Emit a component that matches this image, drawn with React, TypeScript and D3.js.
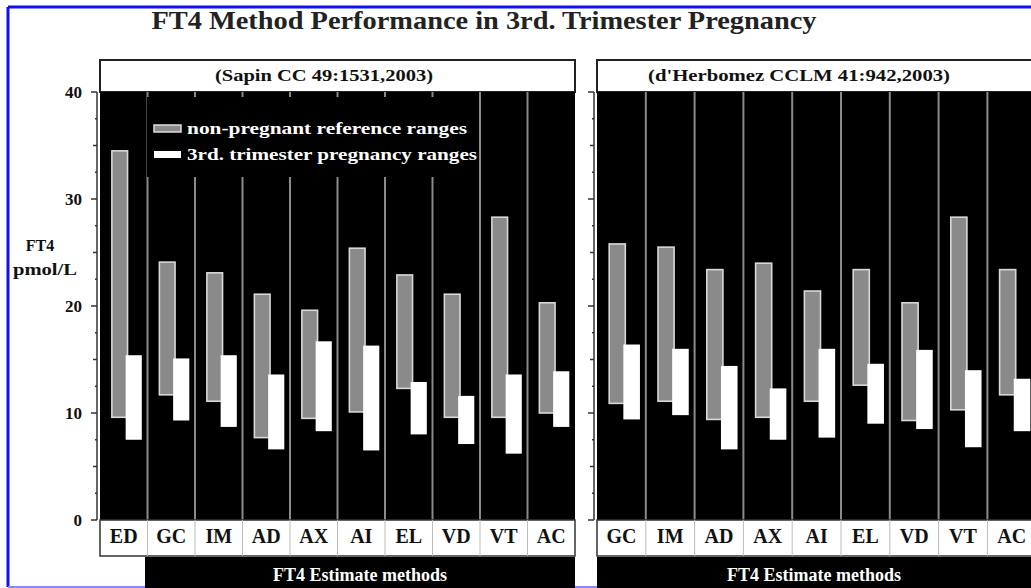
import * as d3 from "d3";
import React from "react";

const title = "FT4 Method Performance in 3rd. Trimester Pregnancy";
const legendLabels = ["non-pregnant reference ranges", "3rd. trimester pregnancy ranges"];
const footLabel = "FT4 Estimate methods";
const yTicks = [0, 10, 20, 30, 40];

// Sapin CC 49:1531,2003
const sapinCats = ["ED", "GC", "IM", "AD", "AX", "AI", "EL", "VD", "VT", "AC"];
const sapinRefLow = [9.6, 11.7, 11.1, 7.7, 9.5, 10.1, 12.3, 9.6, 9.6, 10.0];
const sapinRefHigh = [34.5, 24.1, 23.1, 21.1, 19.6, 25.4, 22.9, 21.1, 28.3, 20.3];
const sapinPregLow = [7.5, 9.3, 8.7, 6.6, 8.3, 6.5, 8.0, 7.1, 6.2, 8.7];
const sapinPregHigh = [15.4, 15.1, 15.4, 13.6, 16.7, 16.3, 12.9, 11.6, 13.6, 13.9];

// d'Herbomez CCLM 41:942,2003
const herbCats = ["GC", "IM", "AD", "AX", "AI", "EL", "VD", "VT", "AC"];
const herbRefLow = [10.9, 11.1, 9.4, 9.6, 11.1, 12.6, 9.3, 10.3, 11.7];
const herbRefHigh = [25.8, 25.5, 23.4, 24.0, 21.4, 23.4, 20.3, 28.3, 23.4];
const herbPregLow = [9.4, 9.8, 6.6, 7.5, 7.7, 9.0, 8.5, 6.8, 8.3];
const herbPregHigh = [16.4, 16.0, 14.4, 12.3, 16.0, 14.6, 15.9, 14.0, 13.2];

const W = 1031;
const H = 588;
const headerTop = 60;
const plotTop = 92;
const plotBottom = 520;
const labelBottom = 556;
const serif = "Liberation Serif, Times New Roman, Tinos, Times, serif";

const y = d3.scaleLinear().domain([0, 40]).range([plotBottom, plotTop]);
const minorTicks = d3.range(0, 40.01, 2.5);

function Panel({ x0, x1, cats, refLow, refHigh, pregLow, pregHigh, header, headerX, headerLen, footStart, showLabels, legend }) {
  const x = d3.scaleBand().domain(cats).range([x0, x1]).padding(0);
  const bw = x.bandwidth();
  const bounds = cats.slice(1).map((c) => x(c));
  return (
    <g>
      {/* header box */}
      <rect x={x0} y={headerTop} width={x1 - x0} height={plotTop - headerTop} fill="#fff" stroke="#222" strokeWidth={2} />
      <text x={headerX} y={81} textAnchor="middle" fontFamily={serif} fontWeight="bold" fontSize={16} textLength={headerLen} lengthAdjust="spacingAndGlyphs" fill="#111">
        {header}
      </text>
      {/* plot area */}
      <rect x={x0} y={plotTop} width={x1 - x0} height={plotBottom - plotTop} fill="#000" />
      {bounds.map((b, i) => (
        <line key={i} x1={b} x2={b} y1={plotTop} y2={plotBottom} stroke="#8a8a8a" strokeWidth={2} />
      ))}
      {legend && (
        <g>
          <rect x={x0 + 47} y={plotTop + 5} width={332} height={80} fill="#000" />
          <rect x={x0 + 54} y={125} width={27} height={7} fill="#8a8a8a" stroke="#ddd" strokeWidth={1.5} />
          <rect x={x0 + 54} y={151} width={27} height={7} fill="#fff" />
          <text x={x0 + 87} y={134} fontFamily={serif} fontWeight="bold" fontSize={17} fill="#fff" textLength={280} lengthAdjust="spacingAndGlyphs">
            {legendLabels[0]}
          </text>
          <text x={x0 + 87} y={160} fontFamily={serif} fontWeight="bold" fontSize={17} fill="#fff" textLength={290} lengthAdjust="spacingAndGlyphs">
            {legendLabels[1]}
          </text>
        </g>
      )}
      {/* bars */}
      {cats.map((c, i) => (
        <g key={c}>
          <rect x={x(c) + bw * 0.25} width={bw * 0.33} y={y(refHigh[i])} height={y(refLow[i]) - y(refHigh[i])} fill="#8a8a8a" stroke="#d8d8d8" strokeWidth={1.6} />
          <rect x={x(c) + bw * 0.54} width={bw * 0.34} y={y(pregHigh[i])} height={y(pregLow[i]) - y(pregHigh[i])} fill="#fff" />
        </g>
      ))}
      {/* y axis */}
      <line x1={x0 - 3} x2={x0 - 3} y1={plotTop} y2={plotBottom} stroke="#333" strokeWidth={1.5} />
      {minorTicks.map((t) => (
        <line key={t} x1={x0 - 3 - (t % 10 === 0 ? 6 : t % 5 === 0 ? 4 : 2)} x2={x0 - 3} y1={y(t)} y2={y(t)} stroke="#333" strokeWidth={1.5} />
      ))}
      {showLabels &&
        yTicks.map((t) => (
          <text key={t} x={x0 - 18} y={y(t)} dy="0.35em" textAnchor="end" fontFamily={serif} fontWeight="bold" fontSize={17} fill="#111">
            {t}
          </text>
        ))}
      {/* category labels */}
      <rect x={x0} y={plotBottom} width={x1 - x0} height={labelBottom - plotBottom} fill="#fff" stroke="#333" strokeWidth={1.5} />
      {bounds.map((b, i) => (
        <line key={i} x1={b} x2={b} y1={plotBottom} y2={labelBottom} stroke="#bbb" strokeWidth={1} />
      ))}
      {cats.map((c) => (
        <text key={c} x={x(c) + bw / 2} y={543} textAnchor="middle" fontFamily={serif} fontWeight="bold" fontSize={20} fill="#111">
          {c}
        </text>
      ))}
      {/* footer */}
      <rect x={footStart} y={labelBottom + 1} width={x1 - footStart} height={H - labelBottom} fill="#000" />
      <text x={(footStart + Math.min(x1, W)) / 2} y={581} textAnchor="middle" fontFamily={serif} fontWeight="bold" fontSize={18} fill="#fff">
        {footLabel}
      </text>
    </g>
  );
}

export default function App() {
  return (
    <svg width={W} height={H} style={{ position: "fixed", left: 0, top: 0, background: "#fff" }}>
      <rect width={W} height={H} fill="#fff" />
      <line x1={8} x2={W} y1={7} y2={7} stroke="#1010f0" strokeWidth={3} />
      <line x1={8} x2={8} y1={7} y2={587} stroke="#1010f0" strokeWidth={3} />
      <line x1={8} x2={W} y1={587} y2={587} stroke="#8888ff" strokeWidth={2} />
      <text x={484} y={29} textAnchor="middle" fontFamily={serif} fontWeight="bold" fontSize={25} fill="#222" textLength={665} lengthAdjust="spacingAndGlyphs">
        {title}
      </text>
      <text x={40} y={251} textAnchor="middle" fontFamily={serif} fontWeight="bold" fontSize={16} fill="#111">
        FT4
      </text>
      <text x={45} y={275} textAnchor="middle" fontFamily={serif} fontWeight="bold" fontSize={16} fill="#111" textLength={64} lengthAdjust="spacingAndGlyphs">
        pmol/L
      </text>
      <Panel
        x0={100}
        x1={575}
        cats={sapinCats}
        refLow={sapinRefLow}
        refHigh={sapinRefHigh}
        pregLow={sapinPregLow}
        pregHigh={sapinPregHigh}
        header="(Sapin CC 49:1531,2003)"
        headerX={324}
        headerLen={218}
        footStart={145}
        showLabels={true}
        legend={true}
      />
      <Panel
        x0={597}
        x1={597 + 9 * 48.8}
        cats={herbCats}
        refLow={herbRefLow}
        refHigh={herbRefHigh}
        pregLow={herbPregLow}
        pregHigh={herbPregHigh}
        header="(d'Herbomez CCLM 41:942,2003)"
        headerX={799}
        headerLen={302}
        footStart={597}
        showLabels={false}
        legend={false}
      />
    </svg>
  );
}
